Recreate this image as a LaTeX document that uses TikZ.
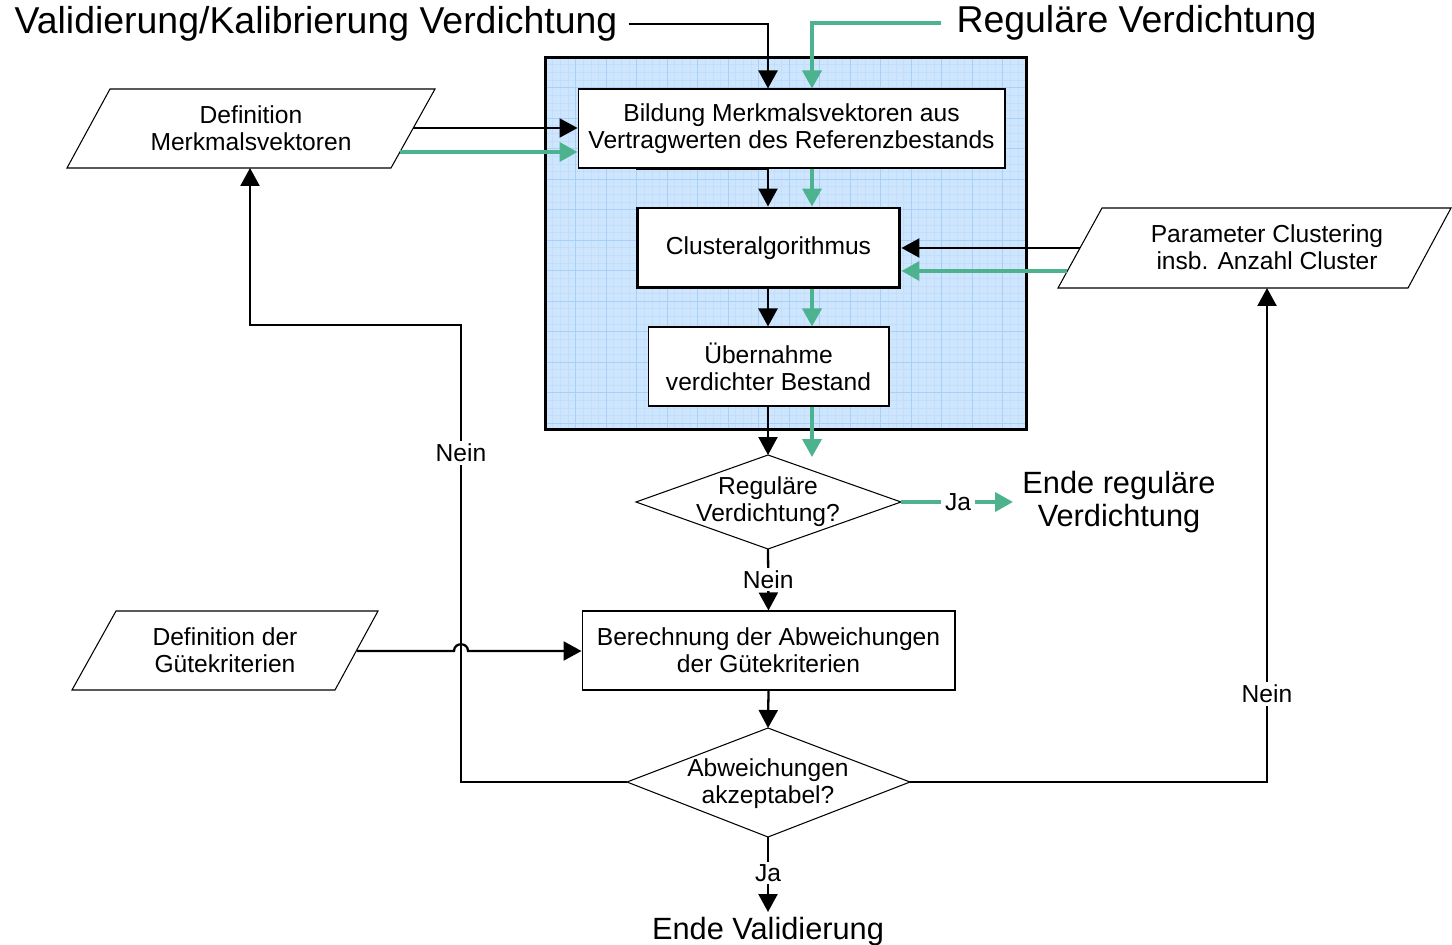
\documentclass[tikz,border=0pt]{standalone}
\usepackage{fontspec}
\setmainfont{Liberation Sans}
\usetikzlibrary{arrows.meta}
\definecolor{grn}{HTML}{4DB38E}
\definecolor{bfill}{HTML}{CDE5FD}
\definecolor{gmaj}{HTML}{A8D0F8}
\definecolor{gmin}{HTML}{C2DEFB}
\begin{document}
\begin{tikzpicture}[x=0.02cm,y=-0.02cm,
  every node/.style={inner sep=0pt, align=center, font=\fontsize{14}{15.4}\selectfont},
  box/.style={draw, line width=0.6pt, fill=white},
  shp/.style={draw, line width=0.6pt, fill=white, line join=miter},
  conn/.style={line width=1.3pt, -{Triangle[length=0.36cm,width=0.38cm]}},
  gconn/.style={conn, line width=2.1pt, draw=grn},
  lbl/.style={fill=white, inner xsep=0.08cm, inner ysep=0.05cm},
  big/.style={font=\fontsize{21.3}{24}\selectfont},
  endt/.style={font=\fontsize{17.5}{18.8}\selectfont}]
\useasboundingbox (0,0) rectangle (1452,945);

% container with grid
\fill[bfill] (545,57) rectangle (1027,430);
\begin{scope}
  \clip (545,57) rectangle (1027,430);
  \foreach \i in {0,...,64} {
    \draw[gmin, line width=0.2pt] (545+\i*7.625,57) -- ++(0,373);
  }
  \foreach \i in {0,...,50} {
    \draw[gmin, line width=0.2pt] (545,57+\i*7.625) -- ++(482,0);
  }
  \foreach \i in {0,...,16} {
    \draw[gmaj, line width=0.45pt] (545+\i*30.5,57) -- ++(0,373);
  }
  \foreach \i in {0,...,13} {
    \draw[gmaj, line width=0.45pt] (545,57+\i*30.5) -- ++(482,0);
  }
\end{scope}
\node[draw, line width=1.7pt, minimum width=9.64cm, minimum height=7.46cm] (grp) at (786,243.5) {};

% helper x positions
\coordinate (xb) at (768,0);
\coordinate (xg) at (812,0);

% process boxes
\node[box, minimum width=8.54cm, minimum height=1.58cm] (b1) at (791.5,128.5) {Bildung Merkmalsvektoren aus\\Vertragwerten des Referenzbestands};
\node[box, line width=1.7pt, minimum width=5.26cm, minimum height=1.6cm] (b2) at (768.5,248) {Clusteralgorithmus};
\node[box, minimum width=4.82cm, minimum height=1.58cm] (b3) at (768.5,366.5) {Übernahme\\verdichter Bestand};
\node[box, minimum width=7.46cm, minimum height=1.58cm] (b4) at (768.5,650.5) {Berechnung der Abweichungen\\der Gütekriterien};

% decisions
\coordinate (d1n) at (768,455);
\coordinate (d1e) at (901,502);
\coordinate (d1s) at (768,549);
\coordinate (d1w) at (636,502);
\draw[shp] (d1w) -- (d1n) -- (d1e) -- (d1s) -- cycle;
\node (d1) at (768,502) {Reguläre\\Verdichtung?};

\coordinate (d2n) at (768,728);
\coordinate (d2e) at (910,782);
\coordinate (d2s) at (768,837);
\coordinate (d2w) at (627,782);
\draw[shp] (d2w) -- (d2n) -- (d2e) -- (d2s) -- cycle;
\node (d2) at (768,784) {Abweichungen\\akzeptabel?};

% data (parallelograms)
\draw[shp] (110,89) -- (435,89) -- (391,168) -- (67,168) -- cycle;
\node (p1) at (251,128) {Definition\\Merkmalsvektoren};
\coordinate (p1a) at (413,128);
\coordinate (p1b) at (400,152);
\coordinate (p1s) at (250,168);

\draw[shp] (1102,208) -- (1451,208) -- (1408,288) -- (1058,288) -- cycle;
\node (p2) at (1267,247) {Parameter Clustering\\insb. Anzahl Cluster};
\coordinate (p2a) at (1080,248);
\coordinate (p2b) at (1067,271);
\coordinate (p2s) at (1267,288);

\draw[shp] (116,611) -- (378,611) -- (335,690) -- (72,690) -- cycle;
\node (p3) at (225,650) {Definition der\\Gütekriterien};
\coordinate (p3a) at (357,651);

% titles and end labels
\node[big, anchor=base] (t1) at (316,34) {Validierung/Kalibrierung Verdichtung};
\node[big, anchor=base] (t2) at (1136.5,33) {Reguläre Verdichtung};
\node[endt, anchor=base] (e1) at (768,939) {Ende Validierung};
\node[endt] (e2) at (1119,502) {Ende reguläre\\Verdichtung};

% connectors
\draw[conn] ([xshift=0.22cm]t1.east) -| (b1.north -| xb);
\draw[gconn] ([xshift=-0.3cm]t2.west) -| (b1.north -| xg);

\draw[conn] (p1a) -- (p1a -| b1.west);
\draw[gconn] (p1b) -- (p1b -| b1.west);

\draw[conn] (b1.south -| b2.west) -- (b1.south -| xb) -- (b2.north -| xb);
\draw[gconn] (b1.south -| xg) -- (b2.north -| xg);

\draw[conn] (p2a) -- (p2a -| b2.east);
\draw[gconn] (p2b) -- (p2b -| b2.east);

\draw[conn] (b2.south -| xb) -- (b3.north -| xb);
\draw[gconn] (b2.south -| xg) -- (b3.north -| xg);

\coordinate (g1) at (812,457);
\draw[conn] (b3.south -| xb) -- (d1n);
\draw[gconn] (b3.south -| xg) -- (g1);

\coordinate (ja) at (1013,502);
\draw[gconn] (d1e) -- (ja) node[lbl, pos=0.51, text=black] (lja) {Ja};

\draw[conn] (d1s) -- (b4.north) node[lbl, midway] (ln1) {Nein};

\draw[conn] (p3a) -- (454,651) .. controls (454,642) and (468,642) .. (468,651) -- (p3a -| b4.west);

\draw[conn] (b4.south) -- (d2n);

\coordinate (jv) at (768,912);
\draw[conn] (d2s) -- (jv) node[lbl, pos=0.48] (lja2) {Ja};

\coordinate (lp) at (461,325);
\draw[conn] (d2w) -| (lp) -| (p1s);
\node[lbl] (ln2) at (461,453) {Nein};

\draw[conn] (d2e) -| (p2s);
\node[lbl] (ln3) at (1267,694) {Nein};
\end{tikzpicture}
\end{document}
